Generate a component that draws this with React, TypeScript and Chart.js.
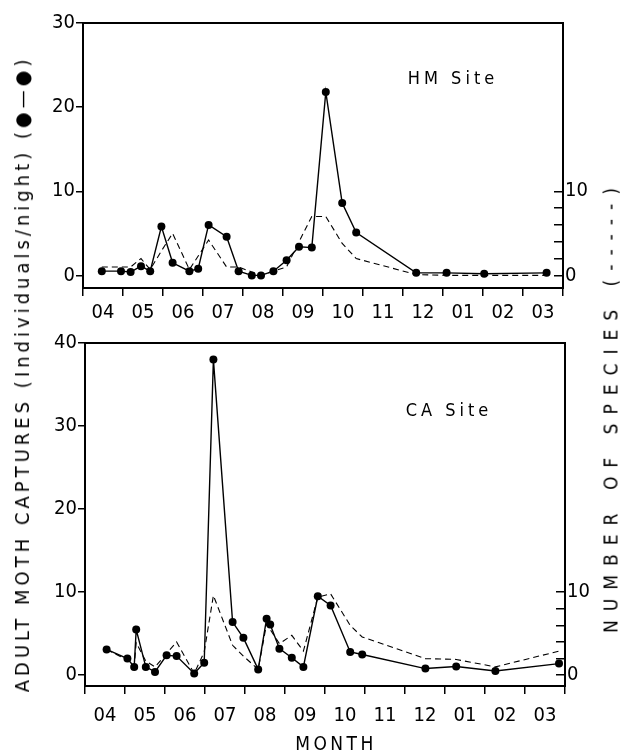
import React, { useEffect, useRef } from 'react';
import { Chart, registerables } from 'chart.js';

Chart.register(...registerables);

// ---------- data ----------
const MONTHS = ['04', '05', '06', '07', '08', '09', '10', '11', '12', '01', '02', '03'];

// HM site (x = months since start of April)
const HM_MONTH = [0.47, 0.95, 1.19, 1.45, 1.68, 1.96, 2.24, 2.66, 2.88, 3.14, 3.59, 3.89, 4.22, 4.45, 4.76, 5.09, 5.4, 5.72, 6.07, 6.48, 6.83, 8.33, 9.09, 10.03, 11.59];
const HM_CAPTURES = [0.5, 0.5, 0.4, 1.1, 0.5, 5.8, 1.5, 0.5, 0.8, 6.0, 4.6, 0.5, 0.0, 0.0, 0.5, 1.8, 3.4, 3.3, 21.8, 8.6, 5.1, 0.3, 0.3, 0.2, 0.3];
const HM_SPECIES = [1.0, 1.0, 1.0, 2.0, 0.7, 2.9, 5.0, 0.7, 2.3, 4.2, 1.0, 1.0, 0.4, 0.0, 0.5, 1.0, 4.0, 7.0, 7.0, 3.8, 2.0, 0.1, 0.0, 0.0, 0.0];

// CA site
const CA_MONTH = [0.54, 1.06, 1.23, 1.28, 1.52, 1.75, 2.04, 2.29, 2.73, 2.98, 3.21, 3.69, 3.96, 4.33, 4.54, 4.63, 4.86, 5.17, 5.46, 5.82, 6.14, 6.63, 6.93, 8.51, 9.28, 10.26, 11.85];
const CA_CAPTURES = [3.1, 2.0, 1.0, 5.5, 1.0, 0.4, 2.4, 2.3, 0.2, 1.5, 38.0, 6.4, 4.5, 0.7, 6.8, 6.1, 3.2, 2.1, 1.0, 9.5, 8.4, 2.8, 2.5, 0.8, 1.05, 0.5, 1.4];
const CA_SPECIES = [3.1, 1.8, 1.1, 3.9, 1.7, 1.0, 2.6, 4.0, 0.2, 2.8, 9.6, 3.6, 2.3, 0.7, 6.2, 5.5, 3.8, 4.8, 2.9, 9.4, 9.8, 6.0, 4.6, 2.0, 1.9, 1.0, 2.9];

const HM_LEFT_TICKS = [0, 10, 20, 30];
const CA_LEFT_TICKS = [0, 10, 20, 30, 40];
const SPECIES_TICKS = [0, 2, 4, 6, 8, 10];
const SPECIES_LABELLED = [0, 10];

const FONT = '"DejaVu Sans Condensed", "Liberation Sans Narrow", "DejaVu Sans", sans-serif';

const framePlugin = {
  id: 'frame',
  afterDatasetsDraw(chart: any) {
    const { ctx, chartArea: a } = chart;
    ctx.save();
    ctx.strokeStyle = '#000';
    ctx.lineWidth = 2;
    ctx.strokeRect(a.left, a.top, a.right - a.left, a.bottom - a.top);
    ctx.restore();
  },
};

type PanelProps = {
  months: number[];
  captures: number[];
  species: number[];
  leftTicks: number[];
  yMin: number;
  yMax: number;
  width: number;
  height: number;
  padTop: number;
  leftW: number;
  rightW: number;
  xH: number;
  xPad: number;
};

function Panel(p: PanelProps) {
  const ref = useRef<HTMLCanvasElement | null>(null);
  useEffect(() => {
    if (!ref.current) return;
    const boundaries = Array.from({ length: MONTHS.length + 1 }, (_, i) => i);
    const tickFont = { family: FONT, size: 20 };
    const chart = new Chart(ref.current, {
      type: 'line',
      data: {
        datasets: [
          {
            label: 'captures',
            data: p.months.map((m, i) => ({ x: m, y: p.captures[i] })),
            borderColor: '#000',
            backgroundColor: '#000',
            borderWidth: 1.4,
            pointRadius: 4,
            pointBorderWidth: 0,
            pointBackgroundColor: '#000',
            tension: 0,
            yAxisID: 'y',
          },
          {
            label: 'species',
            data: p.months.map((m, i) => ({ x: m, y: p.species[i] })),
            borderColor: '#000',
            borderWidth: 1.1,
            borderDash: [6, 4],
            pointRadius: 0,
            tension: 0,
            yAxisID: 'y1',
          },
        ],
      },
      options: {
        animation: false,
        responsive: false,
        layout: { padding: { top: p.padTop, left: 0, right: 0, bottom: 0 } },
        plugins: { legend: { display: false }, tooltip: { enabled: false } },
        scales: {
          x: {
            type: 'linear',
            position: 'bottom',
            min: 0,
            max: MONTHS.length,
            afterBuildTicks: (s: any) => {
              s.ticks = boundaries.map((v) => ({ value: v }));
            },
            afterFit: (s: any) => {
              s.height = p.xH;
            },
            ticks: {
              autoSkip: false,
              maxRotation: 0,
              labelOffset: 20,
              padding: p.xPad,
              color: '#000',
              font: tickFont,
              callback: (_v: any, i: number) => MONTHS[i] ?? '',
            },
            grid: { drawOnChartArea: false, drawTicks: true, tickLength: 8, color: '#000', lineWidth: 1.5 },
            border: { display: false },
          },
          y: {
            type: 'linear',
            position: 'left',
            min: p.yMin,
            max: p.yMax,
            afterBuildTicks: (s: any) => {
              s.ticks = p.leftTicks.map((v) => ({ value: v }));
            },
            afterFit: (s: any) => {
              s.width = p.leftW;
            },
            ticks: { padding: 1, color: '#000', font: tickFont, callback: (v: any) => String(v) },
            grid: { drawOnChartArea: false, drawTicks: true, tickLength: 7, color: '#000', lineWidth: 1.5 },
            border: { display: false },
          },
          y1: {
            type: 'linear',
            position: 'right',
            min: p.yMin,
            max: p.yMax,
            afterBuildTicks: (s: any) => {
              s.ticks = SPECIES_TICKS.map((v) => ({ value: v }));
            },
            afterFit: (s: any) => {
              s.width = p.rightW;
            },
            ticks: {
              padding: 11,
              color: '#000',
              font: tickFont,
              callback: (v: any) => (SPECIES_LABELLED.includes(v) ? String(v) : ''),
            },
            grid: { drawOnChartArea: false, drawTicks: true, tickLength: -9, color: '#000', lineWidth: 1.5 },
            border: { display: false },
          },
        },
      } as any,
      plugins: [framePlugin],
    });
    return () => chart.destroy();
  }, []);
  return <canvas ref={ref} width={p.width} height={p.height} style={{ width: p.width, height: p.height, display: 'block' }} />;
}

const textBase: React.CSSProperties = {
  position: 'absolute',
  whiteSpace: 'nowrap',
  fontFamily: FONT,
  color: '#000',
  lineHeight: 1,
};

export default function App() {
  return (
    <div style={{ position: 'fixed', left: 0, top: 0, width: 620, height: 753, background: '#fff', overflow: 'hidden' }}>
      <div style={{ position: 'absolute', left: 0, top: 0 }}>
        <Panel
          months={HM_MONTH}
          captures={HM_CAPTURES}
          species={HM_SPECIES}
          leftTicks={HM_LEFT_TICKS}
          yMin={-1.5}
          yMax={30}
          width={620}
          height={330}
          padTop={22}
          leftW={83}
          rightW={57}
          xH={42}
          xPad={5}
        />
      </div>
      <div style={{ position: 'absolute', left: 0, top: 320 }}>
        <Panel
          months={CA_MONTH}
          captures={CA_CAPTURES}
          species={CA_SPECIES}
          leftTicks={CA_LEFT_TICKS}
          yMin={-1.3}
          yMax={40}
          width={620}
          height={433}
          padTop={12}
          leftW={85}
          rightW={55}
          xH={67}
          xPad={10}
        />
      </div>
      <div style={{ ...textBase, left: 453, top: 78, fontSize: 18, letterSpacing: '4px', transform: 'translate(-50%, -50%)' }}>HM Site</div>
      <div style={{ ...textBase, left: 449, top: 410, fontSize: 18, letterSpacing: '4px', transform: 'translate(-50%, -50%)' }}>CA Site</div>
      <div style={{ ...textBase, left: 22, top: 374, fontSize: 20, letterSpacing: '4px', transform: 'translate(-50%, -50%) rotate(-90deg)' }}>
        ADULT MOTH CAPTURES (Individuals/night) (●—●)
      </div>
      <div style={{ ...textBase, left: 611, top: 406, fontSize: 19, letterSpacing: '9px', transform: 'translate(-50%, -50%) rotate(-90deg)' }}>
        NUMBER OF SPECIES (-----)
      </div>
      <div style={{ ...textBase, left: 336, top: 743, fontSize: 19, letterSpacing: '3.4px', transform: 'translate(-50%, -50%)' }}>MONTH</div>
    </div>
  );
}
